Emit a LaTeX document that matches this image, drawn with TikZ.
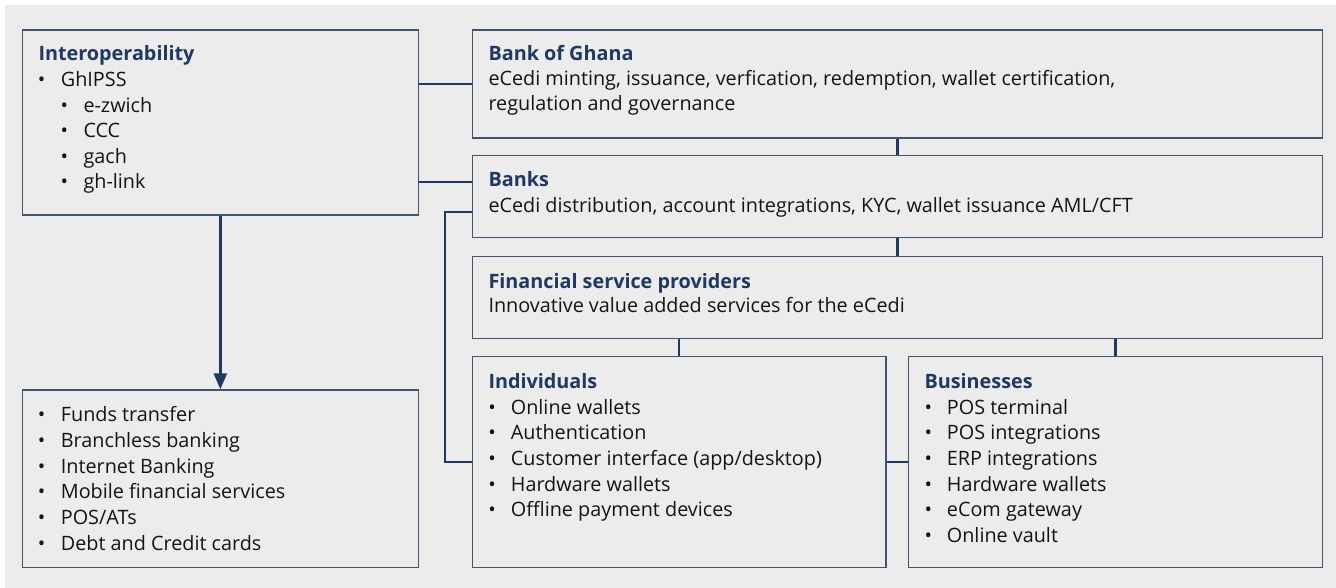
\documentclass[tikz,border=0pt]{standalone}
\usepackage{fontspec}
\setmainfont{Open Sans}
\usetikzlibrary{arrows.meta}
\definecolor{bg}{HTML}{ECECEC}
\definecolor{edge}{HTML}{415572}
\definecolor{navy}{HTML}{1F3864}
\definecolor{txt}{HTML}{141414}
\begin{document}
\begin{tikzpicture}[x=1pt,y=-1pt,
  box/.style={draw=edge, line width=1.3pt, fill=bg, inner sep=0pt, anchor=north west},
  ttl/.style={anchor=base west, inner sep=0pt, text=navy, font=\fontsize{19.8}{23}\selectfont\bfseries},
  item/.style={anchor=base west, inner sep=0pt, text=txt, font=\fontsize{19.8}{23}\selectfont},
  bul/.style={anchor=base, inner sep=0pt, text=txt, font=\fontsize{19.8}{23}\selectfont},
  conn/.style={draw=navy, line width=2.3pt},
  arr/.style={draw=navy, line width=2.7pt, -{Triangle[width=13pt,length=16pt]}}]
\useasboundingbox (0,0) rectangle (1336,588);
\fill[bg] (5,5) rectangle (1336,588);

% boxes
\node[box, minimum width=396pt, minimum height=185pt] (interop) at (21.7,29.3) {};
\node[box, minimum width=396pt, minimum height=177.4pt] (serv) at (21.7,389.3) {};
\node[box, minimum width=850pt, minimum height=108pt] (bog) at (471.7,29.3) {};
\node[box, minimum width=850pt, minimum height=82pt] (banks) at (471.7,155) {};
\node[box, minimum width=850pt, minimum height=82.3pt] (fsp) at (471.7,255.7) {};
\node[box, minimum width=413.6pt, minimum height=210.7pt] (ind) at (471.7,356) {};
\node[box, minimum width=414pt, minimum height=210.7pt] (bus) at (907.7,356) {};

% connectors
\coordinate (c1) at (0,181.7);
\coordinate (bend) at (445,211.7);
\draw[conn] (interop.east |- bog.west) -- (bog.west);
\draw[conn] (interop.east |- c1) -- (banks.west |- c1);
\draw[conn] (bog.south) -- (banks.north);
\draw[conn] (banks.south) -- (fsp.north);
\draw[conn] (fsp.south -| ind.north) -- (ind.north);
\draw[conn] (fsp.south -| bus.north) -- (bus.north);
\draw[conn] (banks.west |- bend) -- (bend) |- (ind.west);
\draw[conn] (ind.east) -- (bus.west);
\draw[arr] (interop.south) -- (serv.north);

% Interoperability
\node[ttl] (interopT) at (38.3,61) {Interoperability};
\node[bul] (ib0) at (41.7,87) {•};
\node[item] (it0) at (60.7,87) {GhIPSS};
\foreach \t [count=\i] in {e-zwich, CCC, gach, gh-link} {
  \node[bul] (ib\i) at (64.3,87+25.5*\i) {•};
  \node[item] (it\i) at (83.3,87+25.5*\i) {\t};
}

% services
\foreach \t [count=\i] in {Funds transfer, Branchless banking, Internet Banking, Mobile financial services, POS/ATs, Debt and Credit cards} {
  \node[bul] (sb\i) at (41.7,396.05+25.66*\i) {•};
  \node[item] (st\i) at (60.7,396.05+25.66*\i) {\t};
}

% Bank of Ghana
\node[ttl] (bogT) at (488.3,61) {Bank of Ghana};
\node[item] (bog1) at (488.3,85.7) {eCedi minting, issuance, verfication, redemption, wallet certification,};
\node[item] (bog2) at (488.3,111) {regulation and governance};

% Banks
\node[ttl] (banksT) at (488.3,186.7) {Banks};
\node[item] (banks1) at (488.3,212.7) {eCedi distribution, account integrations, KYC, wallet issuance AML/CFT};

% FSP
\node[ttl] (fspT) at (488.3,288.3) {Financial service providers};
\node[item] (fsp1) at (488.3,312.7) {Innovative value added services for the eCedi};

% Individuals
\node[ttl] (indT) at (488.3,388.3) {Individuals};
\foreach \t [count=\i] in {Online wallets, Authentication, Customer interface (app/desktop), Hardware wallets, Offline payment devices} {
  \node[bul] (indb\i) at (492,388.7+25.6*\i) {•};
  \node[item] (indt\i) at (510.7,388.7+25.6*\i) {\t};
}

% Businesses
\node[ttl] (busT) at (924.3,388.3) {Businesses};
\foreach \t [count=\i] in {POS terminal, POS integrations, ERP integrations, Hardware wallets, eCom gateway, Online vault} {
  \node[bul] (busb\i) at (928.3,388.7+25.6*\i) {•};
  \node[item] (bust\i) at (946.7,388.7+25.6*\i) {\t};
}
\end{tikzpicture}
\end{document}
